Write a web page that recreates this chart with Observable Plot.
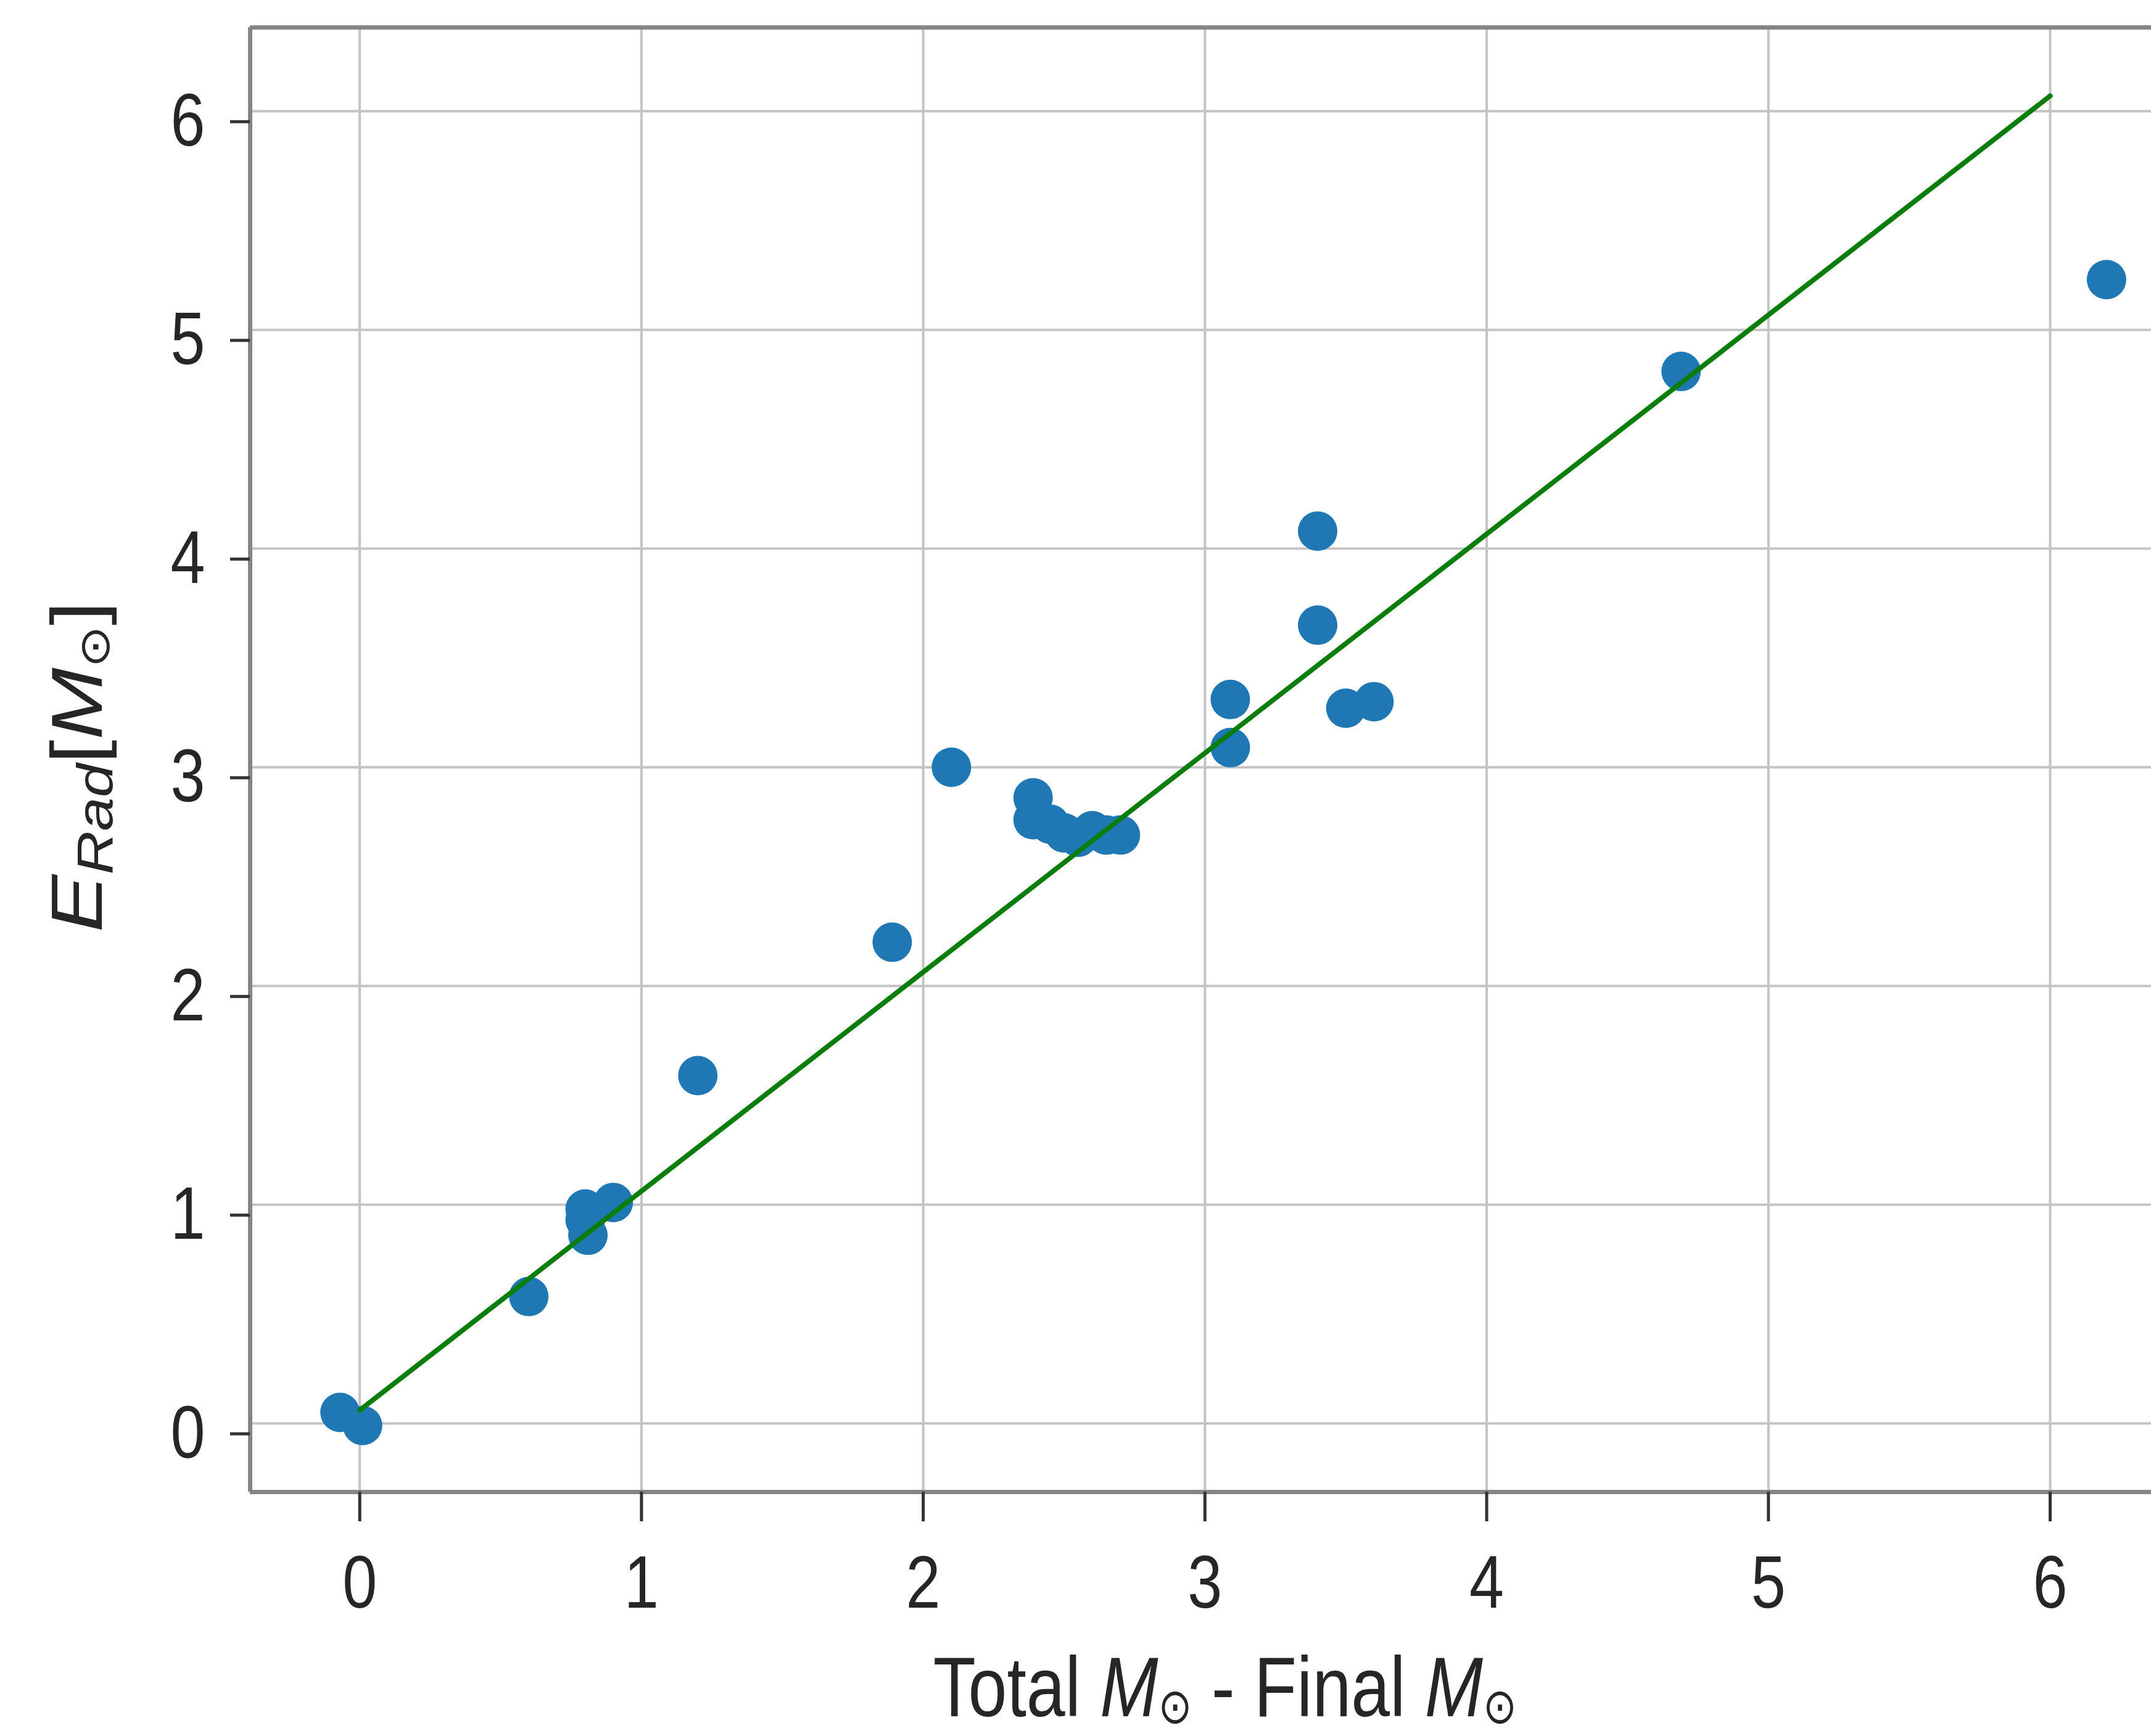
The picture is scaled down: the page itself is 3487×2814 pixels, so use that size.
<!DOCTYPE html>
<html>
<head>
<meta charset="utf-8">
<script src="https://cdn.jsdelivr.net/npm/d3@7"></script>
<script src="https://cdn.jsdelivr.net/npm/@observablehq/plot@0.6"></script>
<style>
  html, body { margin: 0; padding: 0; background: #ffffff; overflow: hidden; }
  #wrap { width: 3487px; height: 2814px; overflow: hidden; position: relative; background: #fff; }
</style>
</head>
<body>
<div id="wrap"></div>
<script>
// ---- data ----
const massLoss = [-0.07, 0.01, 0.6, 0.8, 0.8, 0.81, 0.9, 1.2, 1.89, 2.1,
                  2.39, 2.39, 2.45, 2.5, 2.55, 2.6, 2.65, 2.7,
                  3.09, 3.09, 3.4, 3.4, 3.5, 3.6, 4.69, 6.2];
const radiatedEnergy = [0.05, -0.01, 0.58, 0.98, 0.93, 0.86, 1.01, 1.59, 2.2, 3.0,
                        2.86, 2.76, 2.74, 2.7, 2.68, 2.71, 2.69, 2.69,
                        3.31, 3.09, 4.08, 3.65, 3.27, 3.30, 4.81, 5.23];
const fitX = [0, 6];
const fitY = [0.06, 6.07];
const xTicks = [0, 1, 2, 3, 4, 5, 6];
const yTicks = [0, 1, 2, 3, 4, 5, 6];

const points = massLoss.map((x, i) => ({x, y: radiatedEnergy[i]}));
const fit = fitX.map((x, i) => ({x, y: fitY[i]}));

const FONT = "'Liberation Sans', Arial, Helvetica, sans-serif";
const SYMFONT = "'DejaVu Sans', sans-serif";
const SQUEEZE = 0.84;
// visible window of the axes (the reference crops the right side of the axes box)
const xDomain = [-0.389, 6.359];
const xAxesEnd = 6.534;
const yDomain = [-0.314, 6.383];

const plot = Plot.plot({
  width: 3487,
  height: 2814,
  marginLeft: 405,
  marginRight: 0,
  marginTop: 44,
  marginBottom: 396,
  style: {fontFamily: FONT, fontSize: "120px", color: "#262626", background: "#ffffff"},
  x: {domain: xDomain, label: null},
  y: {domain: yDomain, label: null},
  marks: [
    Plot.gridX(xTicks, {stroke: "#c4c4c4", strokeOpacity: 1, strokeWidth: 4}),
    Plot.gridY(yTicks, {stroke: "#c4c4c4", strokeOpacity: 1, strokeWidth: 4}),
    Plot.ruleX([xDomain[0]], {stroke: "#858585", strokeWidth: 7}),
    Plot.ruleY(yDomain, {stroke: "#858585", strokeWidth: 7}),
    Plot.axisX(xTicks, {tickSize: 48, tickPadding: 54, strokeWidth: 5, stroke: "#333333",
                        fill: "#262626", fontSize: 120, tickFormat: d => String(d), label: null}),
    Plot.axisY(yTicks, {tickSize: 32, tickPadding: 41, strokeWidth: 5, stroke: "#333333",
                        fill: "#262626", fontSize: 120, dy: 17, tickFormat: d => String(d), label: null}),
    Plot.dot(points, {x: "x", y: "y", r: 32, fill: "#1f77b4", stroke: "none"}),
    Plot.line(fit, {x: "x", y: "y", stroke: "#0a7d0a", strokeWidth: 8})
  ]
});

document.getElementById("wrap").appendChild(plot);

// squeeze tick labels horizontally like the reference
plot.querySelectorAll('g[aria-label="x-axis tick label"] text, g[aria-label="y-axis tick label"] text')
  .forEach(t => {
    const tr = t.getAttribute("transform") || "";
    t.setAttribute("transform", tr + ` scale(${SQUEEZE},1)`);
  });

// axis titles with italic / subscript parts
const xs = plot.scale("x");
const yr = plot.scale("y").range;
const svg = d3.select(plot);
const titles = svg.append("g").attr("font-family", FONT).attr("fill", "#262626");

const cx = (xs.apply(xDomain[0]) + xs.apply(xAxesEnd)) / 2;
const xt = titles.append("text")
  .attr("text-anchor", "middle")
  .attr("font-size", 138)
  .attr("transform", `translate(${cx},${yr[0] + 364}) scale(0.82,1)`);
xt.append("tspan").text("Total ");
xt.append("tspan").attr("font-style", "italic").text("M");
xt.append("tspan").attr("font-size", 80).attr("dy", 11).attr("font-family", SYMFONT).text("\u2299");
xt.append("tspan").attr("dy", -11).text(" - Final ");
xt.append("tspan").attr("font-style", "italic").text("M");
xt.append("tspan").attr("font-size", 80).attr("dy", 11).attr("font-family", SYMFONT).text("\u2299");

const cy = (yr[0] + yr[1]) / 2 + 12;
const yt = titles.append("text")
  .attr("text-anchor", "middle")
  .attr("font-size", 140)
  .attr("transform", `translate(165,${cy}) rotate(-90) scale(1,${SQUEEZE})`);
yt.append("tspan").attr("font-style", "italic").text("E");
yt.append("tspan").attr("font-style", "italic").attr("font-size", 98).attr("dy", 20).text("Rad");
yt.append("tspan").attr("dy", -20).text("[");
yt.append("tspan").attr("font-style", "italic").text("M");
yt.append("tspan").attr("font-size", 82).attr("dy", 14).attr("font-family", SYMFONT).text("\u2299");
yt.append("tspan").attr("dy", -14).text("]");
</script>
</body>
</html>
